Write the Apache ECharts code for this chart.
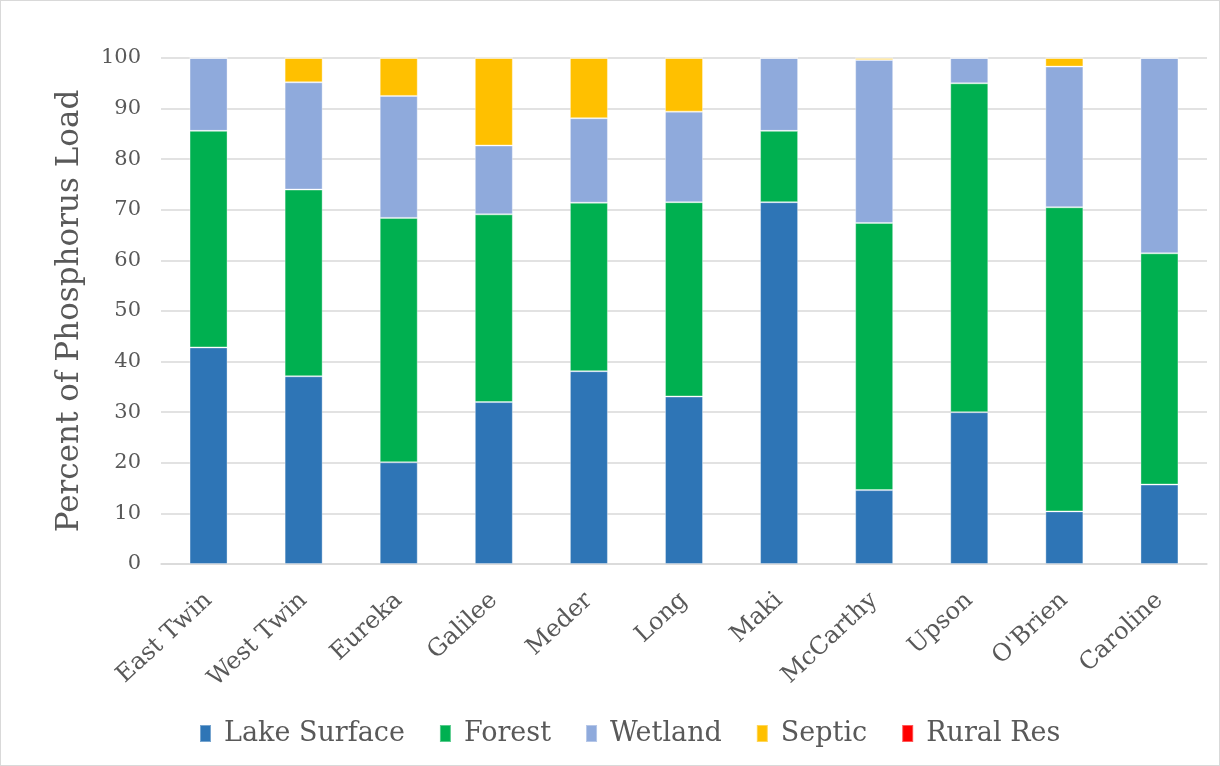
<!DOCTYPE html>
<html>
<head>
<meta charset="utf-8">
<script src="https://cdn.jsdelivr.net/npm/echarts@6/dist/echarts.min.js"></script>
<style>
  html, body { margin: 0; padding: 0; background: #fff; }
  #chart { width: 1220px; height: 766px; box-sizing: border-box; border: 1px solid #d9d9d9; }
</style>
</head>
<body>
<div id="chart"></div>
<script>
// Share of phosphorus load by source for each lake (percent)
const lakes = ['East Twin', 'West Twin', 'Eureka', 'Galilee', 'Meder', 'Long', 'Maki', 'McCarthy', 'Upson', "O'Brien", 'Caroline'];
const lakeSurface = [42.8, 37.1, 20.1, 32.0, 38.1, 33.1, 71.5, 14.6, 30.0, 10.4, 15.7];
const forest      = [42.8, 36.9, 48.3, 37.1, 33.3, 38.4, 14.1, 52.8, 65.0, 60.1, 45.7];
const wetland     = [14.4, 21.2, 24.1, 13.6, 16.7, 17.9, 14.4, 32.2,  5.0, 27.8, 38.6];
const septic      = [ 0.0,  4.8,  7.5, 17.3, 11.9, 10.6,  0.0,  0.4,  0.0,  1.7,  0.0];
const ruralRes    = [ 0,    0,    0,    0,    0,    0,    0,    0,    0,    0,    0  ];
const yTicks = { min: 0, max: 100, interval: 10 };

const FONT = 'DejaVu Serif';
const TEXT = '#595959';

const seriesDefs = [
  { name: 'Lake Surface', data: lakeSurface, color: '#2E75B6' },
  { name: 'Forest',       data: forest,      color: '#00B050' },
  { name: 'Wetland',      data: wetland,     color: '#8FAADC' },
  { name: 'Septic',       data: septic,      color: '#FFC000' },
  { name: 'Rural Res',    data: ruralRes,    color: '#FF0000' }
];

const chart = echarts.init(document.getElementById('chart'), null, { renderer: 'canvas' });
chart.setOption({
  animation: false,
  backgroundColor: '#fff',
  grid: { left: 160, right: 12, top: 57, bottom: 201, containLabel: false },
  legend: {
    bottom: 13,
    left: 193,
    itemWidth: 11,
    itemHeight: 17,
    itemGap: 34,
    icon: 'rect',
    textStyle: { fontFamily: FONT, fontSize: 27, color: TEXT, padding: [0, 0, 0, 8] },
    data: seriesDefs.map(s => s.name)
  },
  xAxis: {
    type: 'category',
    data: lakes,
    axisLine: { lineStyle: { color: '#d9d9d9', width: 1.5 } },
    axisTick: { show: false },
    axisLabel: {
      interval: 0,
      rotate: 43,
      margin: 33,
      fontFamily: FONT,
      fontSize: 24,
      color: TEXT
    }
  },
  yAxis: {
    type: 'value',
    min: yTicks.min,
    max: yTicks.max,
    interval: yTicks.interval,
    name: 'Percent of Phosphorus Load',
    nameLocation: 'middle',
    nameGap: 76,
    nameTextStyle: { fontFamily: FONT, fontSize: 31, color: TEXT },
    axisLine: { show: false },
    axisTick: { show: false },
    axisLabel: { fontFamily: FONT, fontSize: 21, color: TEXT, margin: 20 },
    splitLine: { lineStyle: { color: '#d9d9d9', width: 1.5 } }
  },
  series: seriesDefs.map(s => ({
    name: s.name,
    type: 'bar',
    stack: 'load',
    barWidth: 38,
    data: s.data,
    itemStyle: { color: s.color, borderColor: 'rgba(255,255,255,0.35)', borderWidth: 1 }
  }))
});
</script>
</body>
</html>
